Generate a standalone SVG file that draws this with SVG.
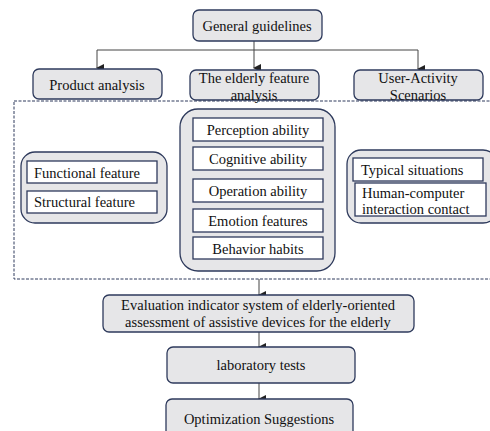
<svg xmlns="http://www.w3.org/2000/svg" width="490" height="431" viewBox="0 0 490 431">
<defs>
<marker id="ah" markerWidth="8" markerHeight="8" refX="4" refY="7" orient="auto-start-reverse" markerUnits="userSpaceOnUse" viewBox="0 0 8 8">
<path d="M0,0 L8,0 L4,8 Z" fill="#222"/>
</marker>
</defs>
<style>
.box{fill:#e6e6e8;stroke:#2e3a5c;stroke-width:1.3}
.in{fill:#fff;stroke:#2e3a5c;stroke-width:1.3}
.t{font-family:"Liberation Serif","Times New Roman",serif;font-size:14.5px;fill:#111}
.c{text-anchor:middle}
.ln{stroke:#444;stroke-width:1;fill:none}
</style>
<rect width="490" height="431" fill="#fff"/>
<g id="connectors">
<path class="ln" d="M254,41 V68" marker-end="url(#ah)"/>
<path class="ln" d="M97,50 H418"/>
<path class="ln" d="M97,50 V68" marker-end="url(#ah)"/>
<path class="ln" d="M418,50 V69" marker-end="url(#ah)"/>
<path class="ln" d="M259,279 V295" marker-end="url(#ah)"/>
<path class="ln" d="M259,332 V347" marker-end="url(#ah)"/>
<path class="ln" d="M259,383 V399" marker-end="url(#ah)"/>
</g>
<g id="dashed-region">
<rect x="14" y="101" width="490" height="178" fill="none" stroke="#2e3a5c" stroke-width="1" stroke-dasharray="3,1.5"/>
</g>
<g id="general"><rect class="box" x="193" y="10" width="129" height="31" rx="6"/><text class="t c" x="257" y="31">General guidelines</text></g>
<g id="product"><rect class="box" x="33" y="69" width="129" height="30" rx="6"/><text class="t c" x="97" y="90">Product analysis</text></g>
<g id="elderly"><rect class="box" x="190" y="70" width="129" height="30" rx="6"/><text class="t c" x="254" y="83">The elderly feature</text><text class="t c" x="254" y="100">analysis</text></g>
<g id="user"><rect class="box" x="354" y="70" width="129" height="30" rx="6"/><text class="t c" x="418" y="83">User-Activity</text><text class="t c" x="418" y="100">Scenarios</text></g>
<g id="left-group"><rect class="box" x="21" y="152" width="146" height="71" rx="14"/>
<g id="functional"><rect class="in" x="27" y="161" width="130" height="22"/><text class="t" x="34" y="178">Functional feature</text></g>
<g id="structural"><rect class="in" x="27" y="191" width="130" height="22"/><text class="t" x="34" y="207">Structural feature</text></g>
</g>
<g id="mid-group"><rect class="box" x="180" y="109" width="155" height="162" rx="18"/>
<g id="perception"><rect class="in" x="193" y="118" width="130" height="23"/><text class="t c" x="258" y="135">Perception ability</text></g>
<g id="cognitive"><rect class="in" x="193" y="147" width="130" height="23"/><text class="t c" x="258" y="164">Cognitive ability</text></g>
<g id="operation"><rect class="in" x="193" y="179" width="130" height="23"/><text class="t c" x="258" y="196">Operation ability</text></g>
<g id="emotion"><rect class="in" x="193" y="209" width="130" height="23"/><text class="t c" x="258" y="226">Emotion features</text></g>
<g id="behavior"><rect class="in" x="193" y="237" width="130" height="22"/><text class="t c" x="258" y="254">Behavior  habits</text></g>
</g>
<g id="right-group"><rect class="box" x="347" y="150" width="150" height="73" rx="14"/>
<g id="typical"><rect class="in" x="353" y="158" width="130" height="23"/><text class="t" x="361" y="175">Typical situations</text></g>
<g id="hci"><rect class="in" x="355" y="183" width="131" height="33"/><text class="t" x="362" y="198">Human-computer</text><text class="t" x="362" y="214">interaction contact</text></g>
</g>
<g id="evaluation"><rect class="box" x="103" y="295" width="311" height="37" rx="6"/><text class="t c" x="258" y="310">Evaluation indicator system of  elderly-oriented</text><text class="t c" x="258" y="327">assessment of assistive devices for the elderly</text></g>
<g id="lab"><rect class="box" x="167" y="347" width="188" height="36" rx="6"/><text class="t c" x="261" y="370">laboratory tests</text></g>
<g id="optim"><rect class="box" x="166" y="399" width="187" height="40" rx="6"/><text class="t c" x="259" y="424">Optimization Suggestions</text></g>
</svg>
